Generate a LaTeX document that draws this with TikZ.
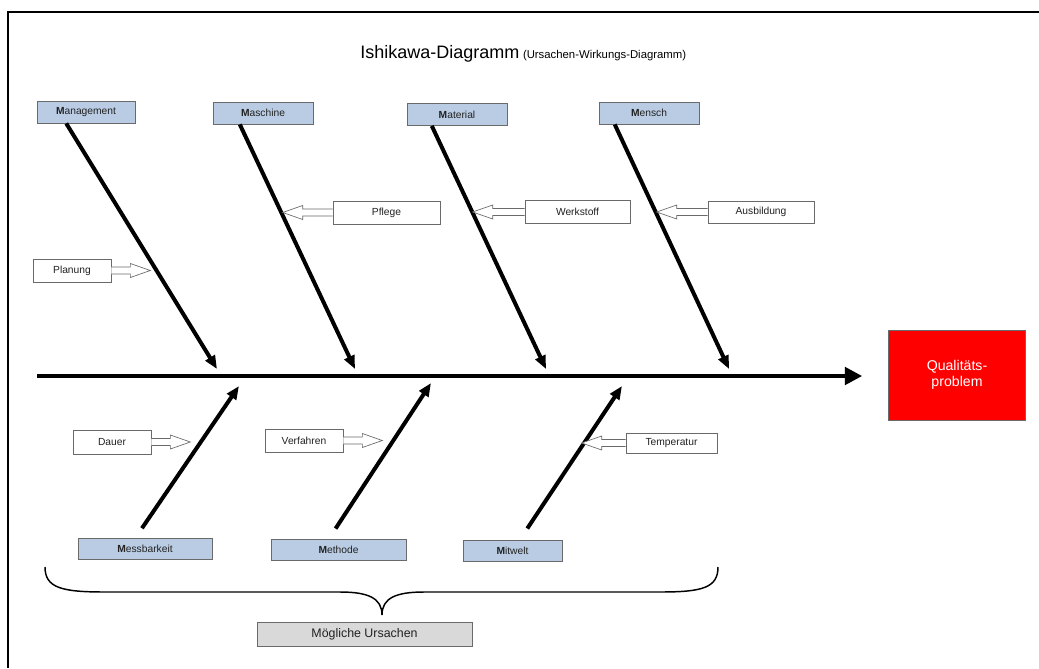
\documentclass[tikz,border=0pt]{standalone}
\usepackage{fontspec}
\setmainfont{Liberation Sans}
\usetikzlibrary{arrows.meta,calc}

\definecolor{catblue}{HTML}{B9CCE4}
\definecolor{boxgray}{HTML}{6A6A6A}
\definecolor{causegray}{HTML}{D9D9D9}
\definecolor{labeltext}{HTML}{222222}
\definecolor{probred}{HTML}{FF0000}

% hollow block arrow from a box anchor (#1) to a tip (#2); #3 = +1 points right, -1 points left
\newcommand\hollowarrow[3]{%
  \draw[hollow] ($(#1)+(0,3.5)$) -- ($(#2)+({-20*#3},3.5)$) -- ($(#2)+({-20*#3},7)$) -- (#2)
    -- ($(#2)+({-20*#3},-7)$) -- ($(#2)+({-20*#3},-3.5)$) -- ($(#1)+(0,-3.5)$);}

\begin{document}
\begin{tikzpicture}[x=0.75pt,y=-0.75pt,
  every node/.style={text=labeltext},
  catbox/.style={draw=boxgray, fill=catblue, line width=0.6pt, inner sep=0pt,
    minimum height=16.5pt, font=\fontsize{7.7}{9}\selectfont},
  subbox/.style={draw=boxgray, fill=white, line width=0.5pt, inner sep=0pt,
    minimum height=17.25pt, font=\fontsize{7.7}{9}\selectfont},
  bone/.style={line width=3pt, -{Triangle[length=10pt,width=8pt]}},
  spine/.style={line width=3pt, -{Triangle[length=13pt,width=13pt]}},
  hollow/.style={draw=boxgray, fill=white, line width=0.5pt, line join=miter},
]
% page and frame
\fill[white] (0,0) rectangle (1039,668);
\useasboundingbox (0,0) rectangle (1039,668);
\draw[line width=1.1pt] (1039,12) -- (8,12) -- (8,668);

% title
\node[anchor=base west, inner sep=0pt, text=black] (title) at (360,58)
  {{\fontsize{13.5}{16}\selectfont Ishikawa-Diagramm} {\fontsize{8.5}{10}\selectfont(Ursachen-Wirkungs-Diagramm)}};

% effect
\node[draw=boxgray, fill=probred, line width=0.5pt, minimum width=102.75pt, minimum height=67.5pt,
  align=center, text=white, font=\fontsize{10.6}{12}\selectfont] (prob) at (957,375) {Qualitäts-\\problem};

% main categories above the spine
\node[catbox, minimum width=73.5pt] (mgmt)   at (86,112)  {\textbf{M}anagement};
\node[catbox, minimum width=75pt]   (masch)  at (263,113) {\textbf{M}aschine};
\node[catbox, minimum width=75pt]   (mat)    at (457,114.5) {\textbf{M}aterial};
\node[catbox, minimum width=75pt]   (mensch) at (649,113) {\textbf{M}ensch};

% main categories below the spine
\node[catbox, minimum width=100.5pt, minimum height=15.75pt] (messb) at (145,548.5) {\textbf{M}essbarkeit};
\node[catbox, minimum width=101.25pt, minimum height=15.75pt] (meth) at (338.5,549.5) {\textbf{M}ethode};
\node[catbox, minimum width=74.25pt, minimum height=15.75pt] (mitw) at (512.5,550.5) {\textbf{M}itwelt};

% spine
\coordinate (tail) at (37,376);
\draw[spine, shorten >=19.5pt] (tail) -- (prob.west |- tail);

% bone tips on the spine
\coordinate (tMgmt)   at (217,369);
\coordinate (tMasch)  at (355,369);
\coordinate (tMat)    at (546,369);
\coordinate (tMensch) at (729,369);
\coordinate (tMessb)  at (239,386);
\coordinate (tMeth)   at (431,383);
\coordinate (tMitw)   at (622,386);

% bones
\draw[bone] ($(mgmt.south west)!0.30!(mgmt.south east)$)   -- (tMgmt);
\draw[bone] ($(masch.south west)!0.27!(masch.south east)$) -- (tMasch);
\draw[bone] ($(mat.south west)!0.25!(mat.south east)$)     -- (tMat);
\draw[bone] ($(mensch.south west)!0.16!(mensch.south east)$) -- (tMensch);
\draw[bone, shorten <=8.5pt] ($(messb.north west)!0.43!(messb.north east)$) -- (tMessb);
\draw[bone, shorten <=9pt]   ($(meth.north west)!0.43!(meth.north east)$)   -- (tMeth);
\draw[bone, shorten <=10pt]  ($(mitw.north west)!0.574!(mitw.north east)$)  -- (tMitw);

% secondary causes
\node[subbox, minimum width=58.5pt]  (plan)  at (72,270.5)  {Planung};
\node[subbox, minimum width=80.25pt] (pfl)   at (386.5,212.5) {Pflege};
\node[subbox, minimum width=78.75pt] (werk)  at (577.5,212) {Werkstoff};
\node[subbox, minimum width=79.5pt, minimum height=16.5pt] (ausb) at (761,212) {Ausbildung};
\node[subbox, minimum width=58.5pt, minimum height=18pt] (dauer) at (112,442) {Dauer};
\node[subbox, minimum width=58.5pt]  (verf)  at (304,440.5) {Verfahren};
\node[subbox, minimum width=68.25pt, minimum height=15pt] (temp) at (671.5,443) {Temperatur};

\path (plan.east)  ++(39,0)  coordinate (planTip);
\path (pfl.west)   ++(-50,0) coordinate (pflTip);
\path (werk.west)  ++(-52,0) coordinate (werkTip);
\path (ausb.west)  ++(-51,0) coordinate (ausbTip);
\path (dauer.east) ++(39,0)  coordinate (dauerTip);
\path (verf.east)  ++(39,0)  coordinate (verfTip);
\path (temp.west)  ++(-44,0) coordinate (tempTip);

\hollowarrow{plan.east}{planTip}{1}
\hollowarrow{pfl.west}{pflTip}{-1}
\hollowarrow{werk.west}{werkTip}{-1}
\hollowarrow{ausb.west}{ausbTip}{-1}
\hollowarrow{dauer.east}{dauerTip}{1}
\hollowarrow{verf.east}{verfTip}{1}
\hollowarrow{temp.west}{tempTip}{-1}

% brace over all causes
\draw[line width=1.1pt]
  (45,567) .. controls (45,588) and (62,592) .. (105,592) -- (340,592)
  .. controls (368,592) and (382,598) .. (382,615)
  .. controls (382,598) and (396,592) .. (424,592) -- (660,592)
  .. controls (702,592) and (718,588) .. (718,567);

\node[draw=boxgray, fill=causegray, line width=0.5pt, minimum width=161.25pt, minimum height=18pt,
  font=\fontsize{9.3}{11}\selectfont] (causes) at (364.5,634) {Mögliche Ursachen};
\end{tikzpicture}
\end{document}
